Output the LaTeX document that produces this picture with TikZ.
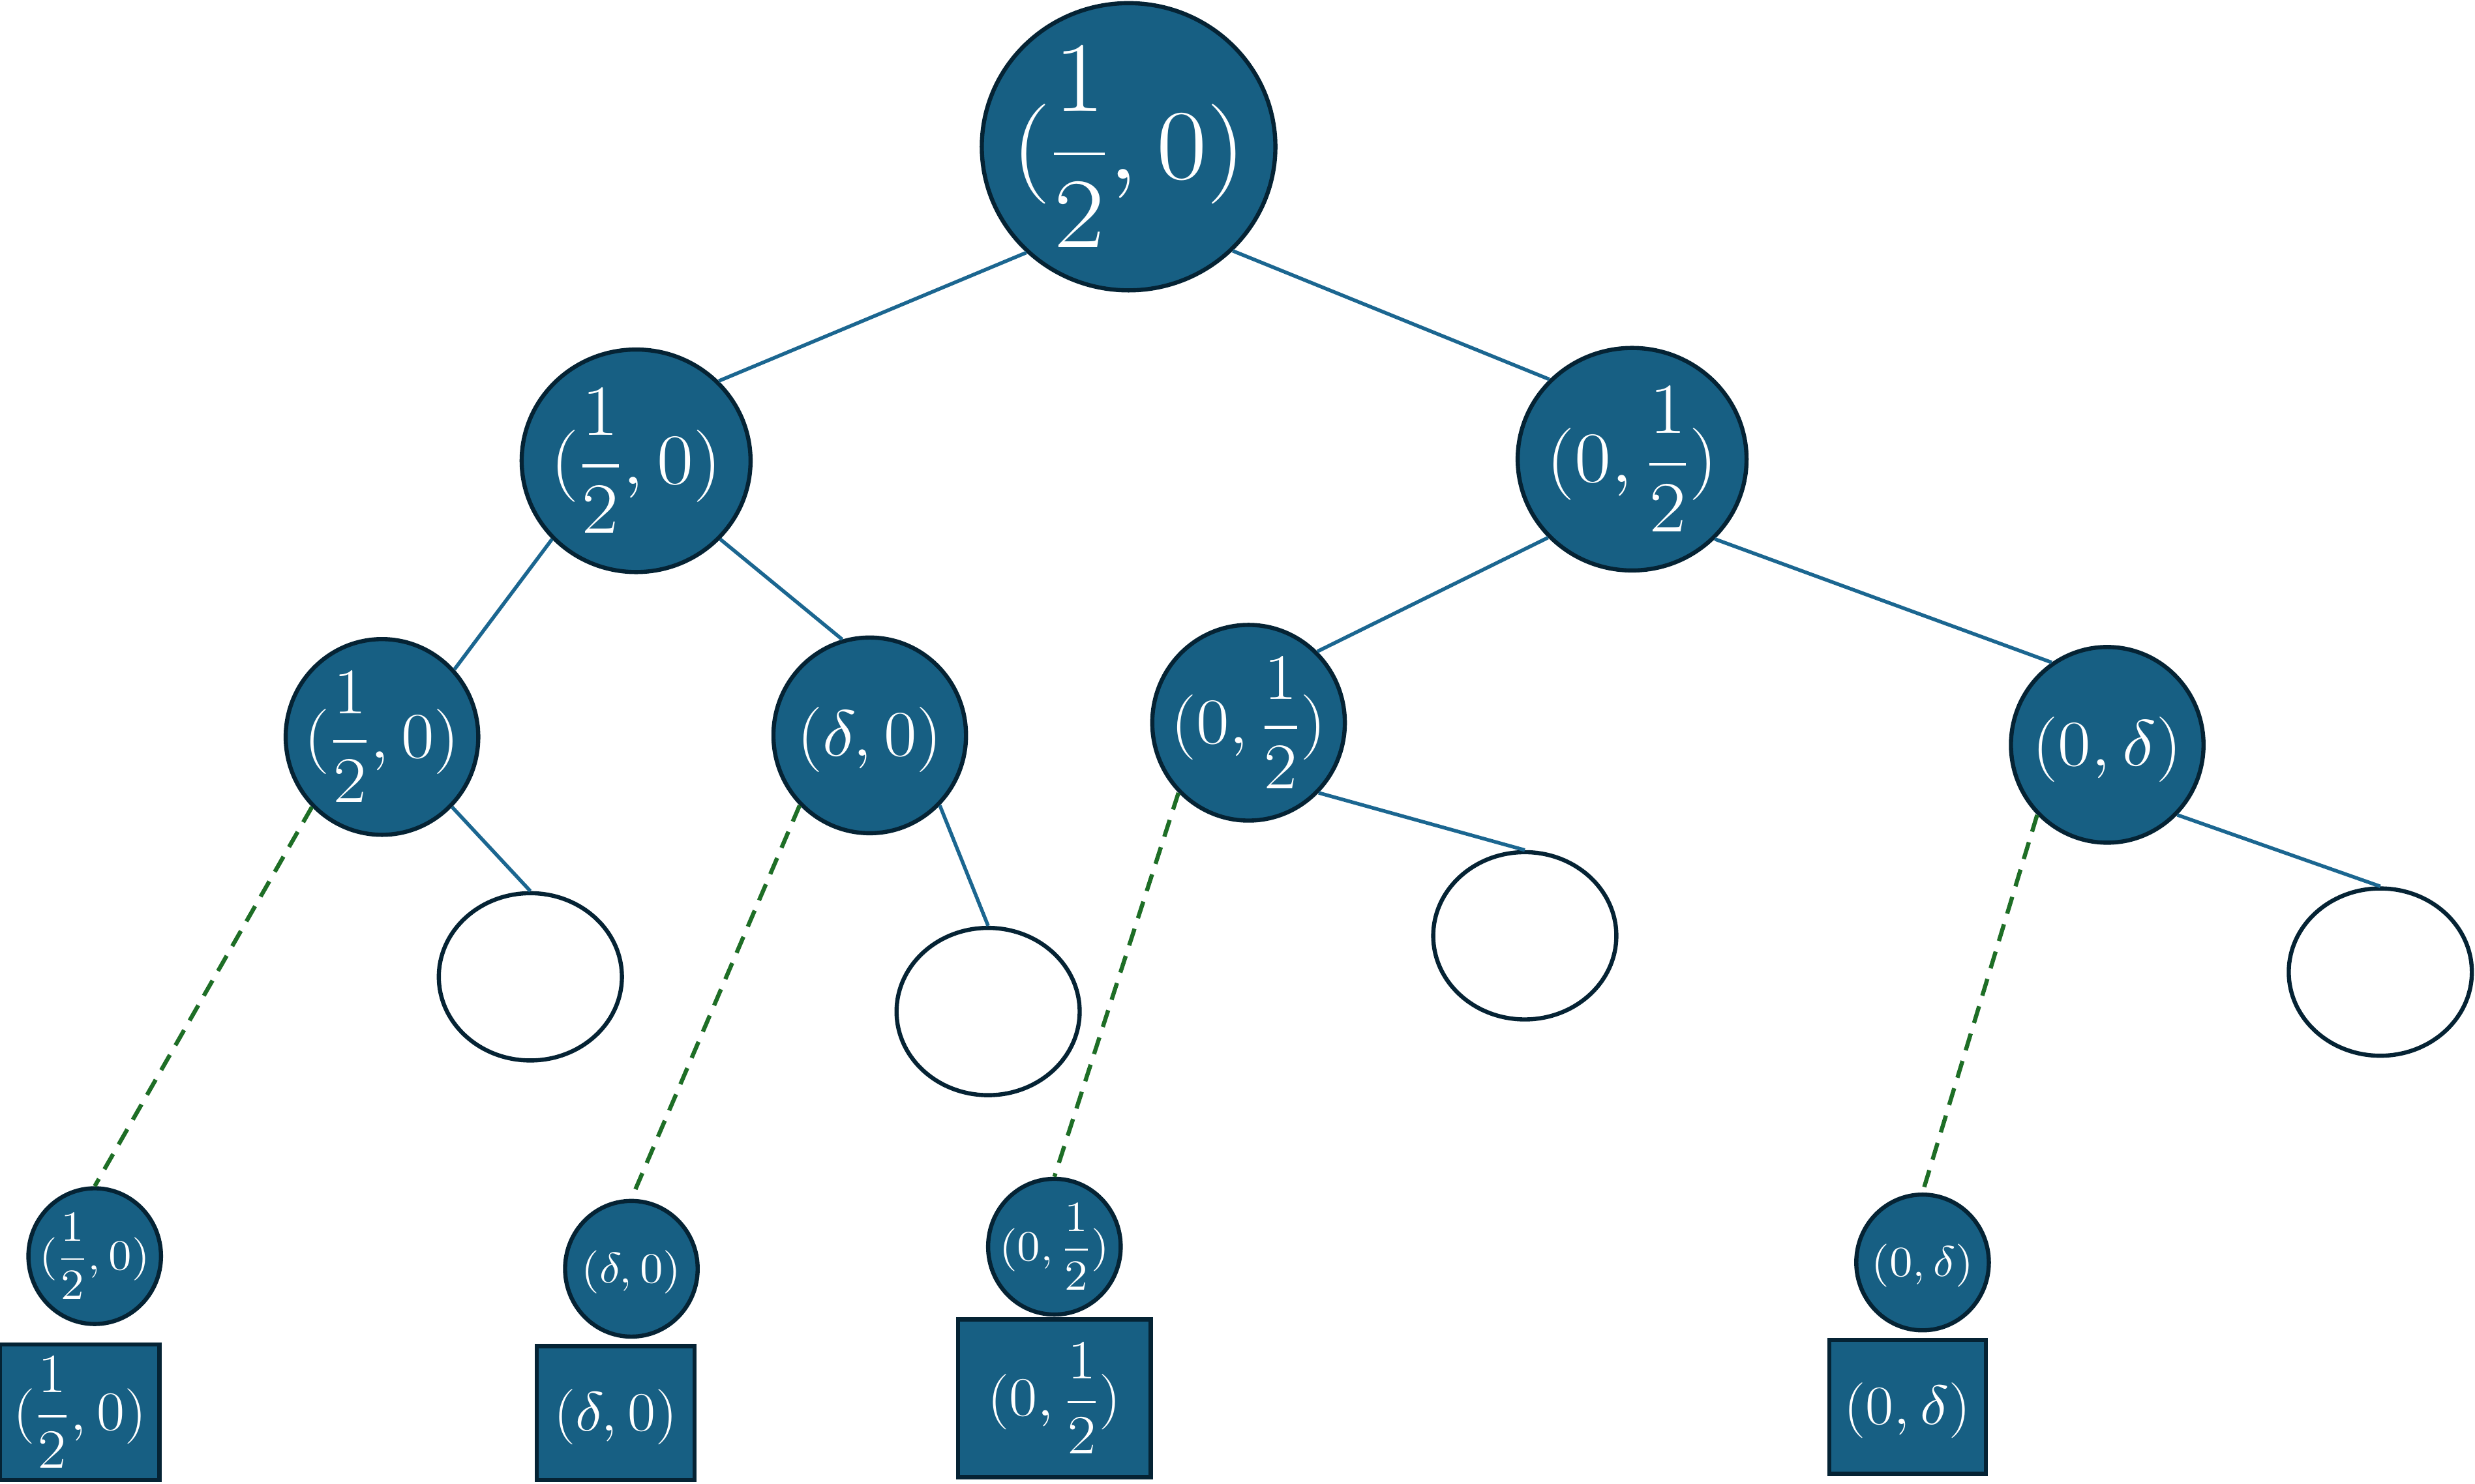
\RequirePackage{fix-cm}
\documentclass[tikz,border=0pt]{standalone}
\usepackage{amsmath}
\usepackage{graphicx}
\usetikzlibrary{shapes.geometric}
\definecolor{tealfill}{HTML}{175F83}
\definecolor{navyline}{HTML}{052334}
\definecolor{edgeblue}{HTML}{1B6690}
\definecolor{prunegreen}{HTML}{1E6E26}
% label set on the math axis, without enlarging its node
\newcommand{\pairlbl}[1]{\smash{\raisebox{-0.32em}{\makebox[0pt]{\scalebox{1.1}[1]{$#1$}}}}}

\begin{document}
\begin{tikzpicture}[x=0.2mm, y=-0.2mm,
        full/.style={ellipse, draw=navyline, line width=1.5pt, fill=tealfill,
                     text=white, inner sep=0pt},
        rootnode/.style={full, minimum width=37.2mm, minimum height=36.4mm,
                         font=\fontsize{36}{40}\selectfont},
        midnode/.style={full, minimum width=29mm, minimum height=28.2mm,
                        font=\fontsize{26}{30}\selectfont},
        lownode/.style={full, minimum width=24.4mm, minimum height=24.8mm,
                        font=\fontsize{23.5}{27}\selectfont},
        leafnode/.style={full, minimum width=16.8mm, minimum height=17.2mm,
                         font=\fontsize{15.5}{19}\selectfont},
        emptynode/.style={ellipse, draw=navyline, line width=1.5pt, fill=white,
                          minimum width=23.2mm, minimum height=21.2mm, inner sep=0pt},
        valbox/.style={rectangle, draw=navyline, line width=1.5pt, fill=tealfill,
                       text=white, inner sep=0pt, font=\fontsize{20}{24}\selectfont},
        edge/.style={draw=edgeblue, line width=1.3pt},
        dashlink/.style={draw=prunegreen, line width=1.5pt, dash pattern=on 6.3pt off 4pt},
    ]
    \useasboundingbox (0,0) rectangle (1568,940);

    % Root and first level
    \node[rootnode] (root) at (715,93) {\pairlbl{(\dfrac{1}{2},0)}};
    \node[midnode] (l) at (403,292) {\pairlbl{(\dfrac{1}{2},0)}};
    \node[midnode] (r) at (1034,291) {\pairlbl{(0,\dfrac{1}{2})}};

    % Second level
    \node[lownode] (ll) at (242,467) {\pairlbl{(\dfrac{1}{2},0)}};
    \node[lownode] (lr) at (551,466) {\pairlbl{(\delta,0)}};
    \node[lownode] (rl) at (791,458) {\pairlbl{(0,\dfrac{1}{2})}};
    \node[lownode] (rr) at (1335,472) {\pairlbl{(0,\delta)}};

    \draw[edge] (root.226) -- (l.44);
    \draw[edge] (root.315) -- (r.136);
    \draw[edge] (l.223) -- (ll.43);
    \draw[edge] (l.317) -- (lr.106);
    \draw[edge] (r.223) -- (rl.46);
    \draw[edge] (r.316) -- (rr.124);

    % Empty children
    \foreach \n/\x/\y in {e1/336/619, e2/626/641, e3/966/593, e4/1508/616} {
        \node[emptynode] (\n) at (\x,\y) {};
    }
    \foreach \a/\b in {ll/e1, lr/e2, rl/e3, rr/e4} {
        \draw[edge] (\a.-45) -- (\b.north);
    }

    % Leaves and their values
    \node[leafnode] (s1) at (60,796) {\pairlbl{(\dfrac{1}{2},0)}};
    \node[leafnode] (s2) at (400,804) {\pairlbl{(\delta,0)}};
    \node[leafnode] (s3) at (668,790) {\pairlbl{(0,\dfrac{1}{2})}};
    \node[leafnode] (s4) at (1218,800) {\pairlbl{(0,\delta)}};
    \foreach \a/\b in {ll/s1, lr/s2, rl/s3, rr/s4} {
        \draw[dashlink] (\a.225) -- (\b.north);
    }

    \node[valbox, minimum width=20.2mm, minimum height=17.2mm] (v1) at (50.5,895) {\pairlbl{(\dfrac{1}{2},0)}};
    \node[valbox, minimum width=20mm, minimum height=17mm] (v2) at (390,895.5) {\pairlbl{(\delta,0)}};
    \node[valbox, minimum width=24.4mm, minimum height=20mm] (v3) at (668,886) {\pairlbl{(0,\dfrac{1}{2})}};
    \node[valbox, minimum width=19.8mm, minimum height=17mm] (v4) at (1208.5,891.5) {\pairlbl{(0,\delta)}};
\end{tikzpicture}
\end{document}
